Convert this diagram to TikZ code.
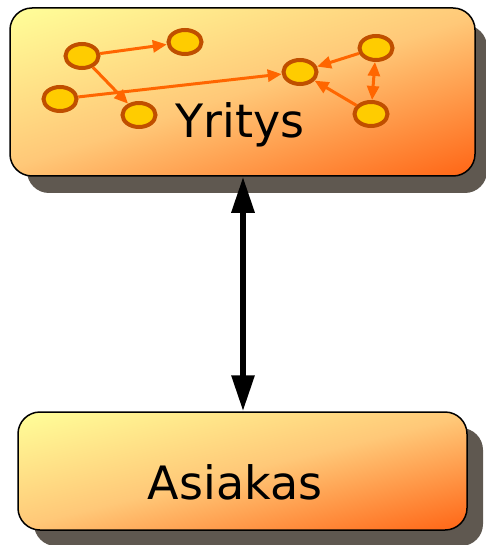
\documentclass[tikz,border=0pt]{standalone}
\usepackage{fontspec}
\setmainfont{DejaVu Sans}
\usetikzlibrary{shapes.geometric,arrows.meta}
\definecolor{shadowgray}{HTML}{5F5850}
\definecolor{ylw}{HTML}{FFFF99}
\definecolor{mid}{HTML}{FFC878}
\definecolor{org}{HTML}{FF6414}
\definecolor{dotfill}{HTML}{FFCC00}
\definecolor{dotline}{HTML}{C04F00}
\definecolor{arr}{HTML}{FF6600}
% gradient for top box: ramp of 304bp, padded 150bp each side
\pgfdeclarehorizontalshading{gradtop}{700bp}{color(0bp)=(ylw); color(150bp)=(ylw); color(302bp)=(mid); color(454bp)=(org); color(604bp)=(org)}
% gradient for bottom box: ramp of 224bp
\pgfdeclarehorizontalshading{gradbot}{700bp}{color(0bp)=(ylw); color(150bp)=(ylw); color(262bp)=(mid); color(374bp)=(org); color(524bp)=(org)}
\begin{document}
\begin{tikzpicture}[x=1pt,y=-1pt,
  bigbox/.style={rectangle, rounded corners=22pt, draw=black, line width=1.5pt},
  dot/.style={ellipse, minimum width=33pt, minimum height=24pt, inner sep=0pt,
    line width=4pt, draw=dotline, fill=dotfill},
  flow/.style={draw=arr, line width=3pt, -{Triangle[length=14pt,width=12pt]}},
  biflow/.style={draw=arr, line width=3pt, {Triangle[length=14pt,width=12pt]}-{Triangle[length=14pt,width=12pt]}},
  lbl/.style={font=\fontsize{46}{50}\selectfont, inner sep=0pt, anchor=base},
  main/.style={line width=6pt, {Triangle[length=36pt,width=22pt]}-{Triangle[length=36pt,width=22pt]}}
]
\useasboundingbox (0,0) rectangle (486,545);
% shadows
\fill[shadowgray, rounded corners=22pt] (27,25) rectangle (487,193);
\fill[shadowgray, rounded corners=22pt] (34,428) rectangle (483,546);
% boxes
\node[bigbox, minimum width=465pt, minimum height=168pt,
  path picture={\node[rotate=-72, inner sep=0pt] at (path picture bounding box.center) {\pgfuseshading{gradtop}};}]
  (yritys) at (242.5,92) {};
\node[bigbox, minimum width=449pt, minimum height=118pt,
  path picture={\node[rotate=-76, inner sep=0pt] at (path picture bounding box.center) {\pgfuseshading{gradbot}};}]
  (asiakas) at (242.5,471) {};
\node[lbl] (yt) at (240,138) {Yritys};
\node[lbl] (at) at (235,499) {Asiakas};
% dots
\node[dot] (e1) at (82,56) {};
\node[dot] (e2) at (185,42) {};
\node[dot] (e3) at (60,99) {};
\node[dot] (e4) at (139,115) {};
\node[dot] (e5) at (300,72) {};
\node[dot] (e6) at (376,48) {};
\node[dot] (e7) at (371,114) {};
\draw[flow] (e1) -- (e2);
\draw[flow] (e1) -- (e4);
\draw[flow] (e3) -- (e5);
\draw[flow] (e6) -- (e5);
\draw[flow] (e7) -- (e5);
\draw[biflow] (e6) -- (e7);
% main arrow
\draw[main] (yritys.south -| 243,0) -- (asiakas.north -| 243,0);
\end{tikzpicture}
\end{document}
